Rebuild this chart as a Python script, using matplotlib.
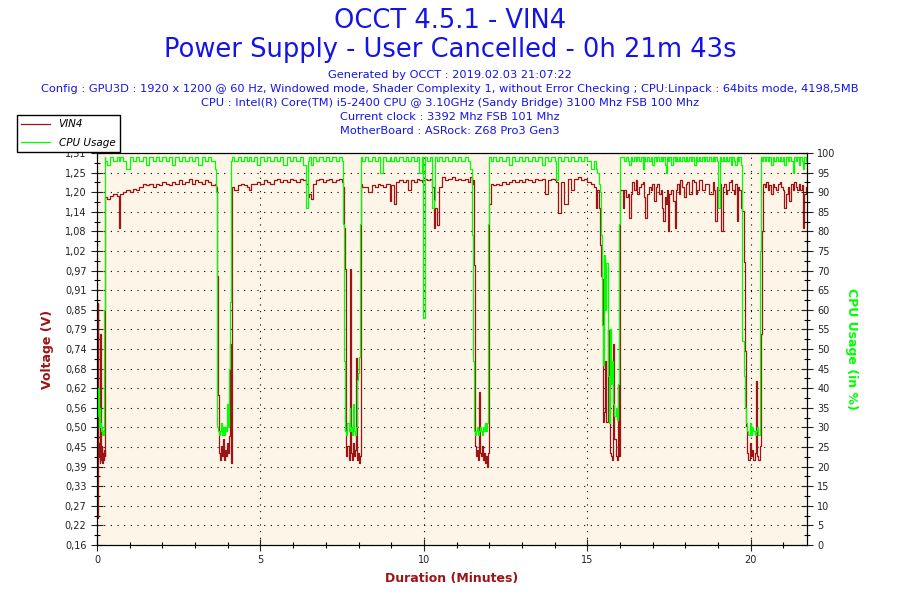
import matplotlib.pyplot as plt
import numpy as np
from matplotlib.ticker import MultipleLocator, FixedLocator

# time in minutes, VIN4 voltage (V), CPU usage (%)
minutes = [
    # start, idle
    0.00, 0.02, 0.04, 0.06, 0.08, 0.10, 0.12, 0.14, 0.16, 0.18, 0.20, 0.22, 0.24, 0.26,
    # load 1
    0.30, 0.40, 0.50, 0.60, 0.67, 0.70, 0.80, 0.90, 1.00, 1.10, 1.20, 1.30, 1.40, 1.50, 1.60, 1.70, 1.80,
    1.90, 2.00, 2.10, 2.20, 2.30, 2.40, 2.50, 2.60, 2.70, 2.80, 2.90, 3.00, 3.10, 3.20, 3.30, 3.40, 3.50, 3.60,
    # idle 1
    3.64, 3.66, 3.68, 3.70, 3.72, 3.75, 3.78, 3.81, 3.84, 3.87, 3.90, 3.93, 3.96, 3.99, 4.02, 4.05, 4.08,
    4.11, 4.14, 4.20,
    # load 2
    4.30, 4.40, 4.50, 4.60, 4.66, 4.70, 4.80, 4.90, 5.00, 5.10, 5.20, 5.30, 5.40, 5.50, 5.60, 5.70, 5.80,
    5.90, 6.00, 6.10, 6.20, 6.30, 6.38, 6.45, 6.50, 6.55, 6.60, 6.70, 6.80, 6.90, 7.00, 7.10, 7.20, 7.30,
    7.40, 7.50,
    # idle 2
    7.54, 7.57, 7.60, 7.63, 7.66, 7.70, 7.73, 7.75, 7.77, 7.80, 7.83, 7.86, 7.89, 7.92, 7.95, 7.98, 8.02,
    8.05, 8.08, 8.12,
    # load 3
    8.20, 8.30, 8.40, 8.50, 8.60, 8.67, 8.75, 8.85, 8.95, 9.00, 9.10, 9.15, 9.25, 9.35, 9.45, 9.50, 9.60,
    9.70, 9.80, 9.86, 9.93, 9.98, 10.02, 10.10, 10.20, 10.26, 10.30, 10.35, 10.40, 10.45, 10.55, 10.65,
    10.75, 10.85, 10.95, 11.05, 11.15, 11.25, 11.35, 11.42,
    # idle 3
    11.46, 11.49, 11.52, 11.55, 11.58, 11.62, 11.66, 11.70, 11.73, 11.76, 11.79, 11.82, 11.85, 11.88,
    11.91, 11.94, 11.97, 12.00, 12.04,
    # load 4
    12.10, 12.20, 12.30, 12.40, 12.50, 12.60, 12.70, 12.80, 12.90, 13.00, 13.10, 13.20, 13.30, 13.40,
    13.50, 13.60, 13.72, 13.80, 13.90, 14.00, 14.05, 14.11, 14.20, 14.30, 14.40, 14.50, 14.60, 14.70,
    14.80, 14.90, 15.00, 15.10, 15.20,
    # idle 4
    15.26, 15.31, 15.36, 15.40, 15.43, 15.46, 15.49, 15.52, 15.55, 15.58, 15.62, 15.65, 15.68, 15.72,
    15.75, 15.79, 15.83, 15.88, 15.92, 15.95, 15.98, 16.01,
    # load 5
    16.08, 16.13, 16.18, 16.23, 16.28, 16.33, 16.38, 16.43, 16.48, 16.53,
    16.58, 16.63, 16.69, 16.73, 16.77, 16.84, 16.89, 16.94, 16.99, 17.04,
    17.09, 17.14, 17.19, 17.24, 17.28, 17.33, 17.37, 17.40, 17.44, 17.47,
    17.51, 17.55, 17.62, 17.67, 17.71, 17.75, 17.80, 17.85, 17.90, 17.96,
    18.01, 18.06, 18.11, 18.16, 18.21, 18.26, 18.31, 18.36, 18.41, 18.46,
    18.51, 18.56, 18.61, 18.67, 18.72, 18.77, 18.84, 18.88, 18.92, 18.96,
    19.00, 19.05, 19.10, 19.14, 19.18, 19.23, 19.28, 19.33, 19.38, 19.43,
    19.48, 19.53, 19.58, 19.62, 19.65, 19.70,
    # idle 5
    19.74, 19.78, 19.82, 19.86, 19.89, 19.93, 19.97, 20.00, 20.04, 20.08, 20.12, 20.15, 20.19, 20.23,
    20.27, 20.30, 20.33,
    # load 6
    20.37, 20.42, 20.47, 20.52, 20.57, 20.62, 20.67, 20.72, 20.77, 20.82, 20.88, 20.93, 20.98, 21.03,
    21.08, 21.13, 21.18, 21.23, 21.28, 21.33, 21.38, 21.42, 21.47, 21.52, 21.57, 21.60, 21.64, 21.69,
]

vin4 = [
    0.24, 0.87, 0.42, 0.46, 0.40, 0.78, 0.41, 0.45, 0.40, 0.43, 0.41, 0.44, 0.42, 1.18,
    1.175, 1.185, 1.19, 1.185, 1.09, 1.19, 1.195, 1.20, 1.195, 1.205, 1.20, 1.21, 1.22, 1.215, 1.22, 1.21,
    1.22, 1.215, 1.225, 1.22, 1.215, 1.225, 1.22, 1.23, 1.22, 1.225, 1.235, 1.22, 1.23, 1.225, 1.22, 1.23,
    1.225, 1.215, 1.22,
    1.21, 0.97, 0.95, 0.60, 0.43, 0.41, 0.45, 0.42, 0.47, 0.43, 0.41, 0.44, 0.42, 0.46, 0.43, 0.48, 0.75,
    0.40, 1.21, 1.20,
    1.215, 1.22, 1.215, 1.21, 1.20, 1.22, 1.22, 1.225, 1.22, 1.23, 1.225, 1.22, 1.23, 1.235, 1.225, 1.23,
    1.225, 1.235, 1.23, 1.225, 1.235, 1.23, 1.22, 1.18, 1.19, 1.175, 1.22, 1.23, 1.235, 1.225, 1.23, 1.235,
    1.225, 1.23, 1.235, 1.225,
    1.21, 1.09, 0.97, 0.42, 0.45, 0.41, 0.65, 0.97, 0.43, 0.41, 0.46, 0.42, 0.44, 0.71, 0.41, 0.43, 0.40,
    0.42, 1.22, 1.21,
    1.21, 1.195, 1.215, 1.21, 1.22, 1.215, 1.21, 1.22, 1.17, 1.215, 1.16, 1.225, 1.23, 1.225, 1.23, 1.20,
    1.23, 1.225, 1.235, 1.23, 1.225, 1.23, 1.235, 1.23, 1.235, 1.21, 1.09, 1.15, 1.10, 1.21, 1.24, 1.23,
    1.235, 1.24, 1.23, 1.235, 1.23, 1.235, 1.225, 1.24,
    1.22, 1.23, 0.98, 0.45, 0.42, 0.44, 0.41, 0.61, 0.43, 0.42, 0.45, 0.41, 0.43, 0.40, 0.42, 0.39, 0.43,
    1.16, 1.22,
    1.215, 1.22, 1.215, 1.225, 1.22, 1.225, 1.23, 1.225, 1.23, 1.225, 1.235, 1.23, 1.225, 1.235, 1.23,
    1.235, 1.19, 1.23, 1.235, 1.23, 1.225, 1.135, 1.225, 1.16, 1.235, 1.20, 1.235, 1.24, 1.23, 1.235,
    1.225, 1.22, 1.21,
    1.15, 1.20, 1.15, 1.04, 0.95, 0.94, 0.52, 0.55, 0.70, 0.52, 0.79, 0.60, 0.43, 0.42, 0.41, 0.75, 0.47,
    0.42, 0.41, 0.63, 0.42, 1.20,
    1.15, 1.20, 1.18, 1.19, 1.12, 1.19, 1.225, 1.20, 1.23, 1.19,
    1.21, 1.22, 1.225, 1.18, 1.12, 1.19, 1.21, 1.20, 1.22, 1.17,
    1.21, 1.22, 1.19, 1.20, 1.15, 1.11, 1.18, 1.16, 1.20, 1.08,
    1.19, 1.20, 1.17, 1.09, 1.20, 1.22, 1.19, 1.23, 1.21, 1.18,
    1.22, 1.225, 1.19, 1.19, 1.23, 1.225, 1.19, 1.20, 1.23, 1.23,
    1.20, 1.20, 1.22, 1.22, 1.19, 1.19, 1.225, 1.20, 1.11, 1.21,
    1.20, 1.22, 1.08, 1.21, 1.22, 1.19, 1.20, 1.225, 1.23, 1.20,
    1.19, 1.22, 1.11, 1.21, 1.20, 1.15,
    1.14, 0.99, 0.73, 0.51, 0.43, 0.41, 0.46, 0.42, 0.44, 0.41, 0.43, 0.64, 0.42, 0.41, 0.45, 0.78, 1.08,
    1.22, 1.21, 1.225, 1.20, 1.215, 1.19, 1.22, 1.21, 1.20, 1.22, 1.225, 1.21, 1.20, 1.15, 1.19, 1.21,
    1.17, 1.22, 1.20, 1.225, 1.21, 1.20, 1.22, 1.20, 1.215, 1.09, 1.19, 1.21,
]

cpu_usage = [
    38, 33, 40, 30, 35, 31, 29, 30, 28, 29, 28, 60, 99, 98,
    97, 99, 98, 99, 98, 99, 98, 96, 99, 98, 99, 98, 99, 97, 99, 98, 99, 98, 99, 98, 99, 97, 99, 98, 99,
    98, 99, 98, 99, 97, 99, 98, 99, 98, 96,
    90, 55, 30, 29, 28, 29, 31, 28, 30, 29, 28, 30, 29, 36, 30, 45, 62, 98, 99, 98,
    99, 98, 99, 98, 99, 98, 99, 97, 99, 98, 99, 98, 99, 98, 99, 97, 99, 98, 99, 98, 99, 97, 86, 98, 99,
    97, 99, 98, 99, 98, 99, 98, 99, 98, 99, 98,
    82, 47, 29, 28, 31, 29, 35, 29, 30, 28, 36, 29, 28, 30, 42, 44, 48, 82, 99, 98,
    99, 98, 99, 98, 99, 95, 99, 98, 99, 98, 99, 98, 99, 98, 99, 98, 99, 98, 99, 95, 99, 58, 99, 98, 99,
    86, 88, 99, 98, 99, 98, 99, 98, 99, 98, 99, 98, 99, 98, 96,
    79, 47, 29, 28, 29, 30, 28, 29, 30, 29, 28, 30, 29, 31, 29, 31, 82, 99, 98,
    99, 98, 99, 98, 99, 97, 99, 98, 99, 98, 99, 98, 99, 98, 99, 97, 99, 98, 99, 98, 93, 99, 98, 99, 98,
    99, 98, 99, 98, 99, 98, 96, 98,
    96, 95, 92, 90, 79, 56, 46, 74, 60, 72, 43, 31, 55, 41, 47, 36, 33, 35, 32, 41, 82, 99,
    99, 98, 99, 98, 97, 99, 98, 99, 98, 99,
    98, 99, 96, 99, 98, 99, 98, 99, 97, 99,
    98, 99, 98, 99, 98, 99, 97, 95, 99, 98,
    99, 97, 99, 98, 99, 98, 99, 98, 99, 98,
    99, 98, 99, 98, 99, 97, 99, 98, 99, 98,
    99, 98, 99, 98, 99, 98, 99, 98, 99, 98,
    86, 99, 98, 99, 98, 99, 98, 99, 97, 99,
    98, 97, 99, 98, 99, 97,
    52, 43, 35, 31, 29, 28, 31, 28, 30, 29, 28, 29, 30, 28, 75, 99, 98,
    99, 98, 99, 98, 99, 97, 99, 98, 99, 98, 99, 98, 99, 97, 99, 98, 99, 98, 95, 99, 98, 99, 97, 99, 98,
    96, 99, 98,
]

assert len(minutes) == len(vin4) == len(cpu_usage), (len(minutes), len(vin4), len(cpu_usage))

volt_labels = ['0,16', '0,22', '0,27', '0,33', '0,39', '0,45', '0,50', '0,56', '0,62', '0,68', '0,74',
               '0,79', '0,85', '0,91', '0,97', '1,02', '1,08', '1,14', '1,20', '1,25', '1,31']

info_lines = [
    'Generated by OCCT : 2019.02.03 21:07:22',
    'Config : GPU3D : 1920 x 1200 @ 60 Hz, Windowed mode, Shader Complexity 1, without Error Checking ; '
    'CPU:Linpack : 64bits mode, 4198,5MB',
    'CPU : Intel(R) Core(TM) i5-2400 CPU @ 3.10GHz (Sandy Bridge) 3100 Mhz FSB 100 Mhz',
    'Current clock : 3392 Mhz FSB 101 Mhz',
    'MotherBoard : ASRock: Z68 Pro3 Gen3',
]

red = '#9E1414'
green = '#00FF00'
blue = '#1414E6'

fig = plt.figure(figsize=(9, 6), dpi=100)
ax = fig.add_axes([97 / 900, 55 / 600, 710 / 900, 392 / 600])
ax.set_facecolor('#FDF6E8')
ax2 = ax.twinx()

l1, = ax.plot(minutes, vin4, color=red, lw=0.9, drawstyle='steps-post')
l2, = ax2.plot(minutes, cpu_usage, color=green, lw=0.9, drawstyle='steps-post')

ax.set_xlim(0, 21.72)
ax.set_ylim(0.16, 1.31)
ax2.set_ylim(0, 100)

vticks = np.linspace(0.16, 1.31, 21)
ax.yaxis.set_major_locator(FixedLocator(vticks))
ax.set_yticklabels(volt_labels)
ax.yaxis.set_minor_locator(FixedLocator((vticks[:-1] + vticks[1:]) / 2))
ax.xaxis.set_major_locator(MultipleLocator(5))
ax.xaxis.set_minor_locator(MultipleLocator(1))
ax2.yaxis.set_major_locator(MultipleLocator(5))
ax2.yaxis.set_minor_locator(MultipleLocator(2.5))

for a in (ax, ax2):
    a.tick_params(which='major', direction='inout', length=8, width=0.8, labelsize=7, colors='#222222')
    a.tick_params(which='minor', direction='inout', length=5, width=0.8)
    for s in a.spines.values():
        s.set_linewidth(0.8)

ax.grid(True, which='major', color='black', linestyle=(0, (1, 5)), linewidth=0.8)

ax.set_ylabel('Voltage (V)', color=red, fontsize=9, fontweight='bold', labelpad=8)
ax2.set_ylabel('CPU Usage (in %)', color=green, fontsize=9, fontweight='bold', rotation=270, labelpad=16)
ax.set_xlabel('Duration (Minutes)', color=red, fontsize=9, fontweight='bold', labelpad=5)

fig.text(0.5, 1 - 21 / 600, 'OCCT 4.5.1 - VIN4', ha='center', va='center', color=blue, fontsize=18.5)
fig.text(0.5, 1 - 50 / 600, 'Power Supply - User Cancelled - 0h 21m 43s', ha='center', va='center',
         color=blue, fontsize=18.5)
for i, line in enumerate(info_lines):
    fig.text(0.5, 1 - (75 + i * 14) / 600, line, ha='center', va='center', color=blue, fontsize=8.2)

fig.legend([l1, l2], ['VIN4', 'CPU Usage'], loc='upper left', bbox_to_anchor=(17 / 900, 1 - 115 / 600),
           fancybox=False, edgecolor='black', framealpha=1, prop={'style': 'italic', 'size': 7.5},
           handlelength=2.8, handletextpad=0.8, borderpad=0.4, labelspacing=0.8, borderaxespad=0)

fig.savefig('out.png', dpi=100)
